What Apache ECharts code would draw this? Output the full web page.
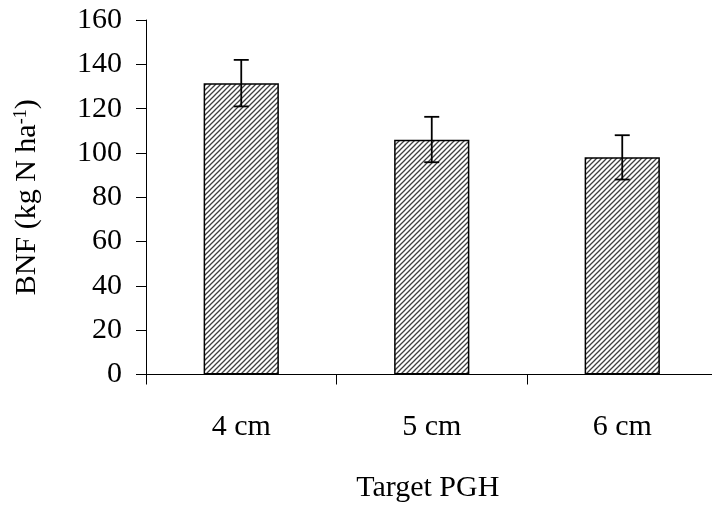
<!DOCTYPE html>
<html>
<head>
<meta charset="utf-8">
<script src="https://cdn.jsdelivr.net/npm/echarts@6/dist/echarts.min.js"></script>
<style>html,body{margin:0;padding:0;background:#fff}#c{width:712px;height:506px}</style>
</head>
<body>
<div id="c"></div>
<script>
var categories = ['4 cm', '5 cm', '6 cm'];
var bnfValues = [131.5, 106, 98];
var errLow = [121, 95.8, 88];
var errHigh = [142, 116.3, 108];
var yTicks = [0, 20, 40, 60, 80, 100, 120, 140, 160];

function hatch() {
  var c = document.createElement('canvas');
  c.width = 5; c.height = 5;
  var g = c.getContext('2d');
  g.fillStyle = '#ffffff';
  g.fillRect(0, 0, 5, 5);
  g.strokeStyle = '#404040';
  g.lineWidth = 1.3;
  g.beginPath();
  g.moveTo(-1, 6); g.lineTo(6, -1);
  g.moveTo(-6, 6); g.lineTo(1, -1);
  g.moveTo(4, 6); g.lineTo(11, -1);
  g.stroke();
  return c;
}

var font = 'Liberation Serif, Times New Roman, serif';
var chart = echarts.init(document.getElementById('c'), null, {renderer: 'canvas'});
var errData = categories.map(function (c, i) { return [i, errLow[i], errHigh[i]]; });

chart.setOption({
  animation: false,
  backgroundColor: '#fff',
  grid: {left: 146, top: 20, bottom: 131.5, right: -5.5, containLabel: false, outerBoundsMode: 'none'},
  xAxis: {
    type: 'category',
    data: categories,
    name: 'Target PGH',
    nameLocation: 'middle',
    nameGap: 99,
    nameTextStyle: {fontFamily: font, fontSize: 30, color: '#000', padding: [0, 8, 0, 0]},
    axisLine: {lineStyle: {color: '#000', width: 1}},
    axisTick: {show: true, alignWithLabel: false, length: 10, lineStyle: {color: '#000'}},
    axisLabel: {fontFamily: font, fontSize: 30, color: '#000', margin: 38}
  },
  yAxis: {
    type: 'value',
    min: yTicks[0],
    max: yTicks[yTicks.length - 1],
    interval: 20,
    name: '{a|BNF (kg N ha}{s|-1}{a|)}',
    nameLocation: 'middle',
    nameGap: 104,
    nameRotate: 90,
    nameTextStyle: {
      rich: {
        a: {fontFamily: font, fontSize: 30, color: '#000'},
        s: {fontFamily: font, fontSize: 18, color: '#000', verticalAlign: 'top', padding: [0, 0, 12, 0]}
      }
    },
    splitLine: {show: false},
    axisLine: {show: true, lineStyle: {color: '#000', width: 1}},
    axisTick: {show: true, length: 10, lineStyle: {color: '#000'}},
    axisLabel: {fontFamily: font, fontSize: 30, color: '#000', margin: 24}
  },
  series: [
    {
      type: 'bar',
      data: bnfValues,
      barWidth: '39.5%',
      itemStyle: {
        color: {image: hatch(), repeat: 'repeat'},
        borderColor: '#000',
        borderWidth: 1.5
      }
    },
    {
      type: 'custom',
      data: errData,
      z: 10,
      renderItem: function (params, api) {
        var x = api.value(0);
        var lo = api.coord([x, api.value(1)]);
        var hi = api.coord([x, api.value(2)]);
        var w = 7.5;
        var st = {stroke: '#000', lineWidth: 1.8};
        return {
          type: 'group',
          children: [
            {type: 'line', shape: {x1: hi[0], y1: hi[1], x2: lo[0], y2: lo[1]}, style: st},
            {type: 'line', shape: {x1: hi[0] - w, y1: hi[1], x2: hi[0] + w, y2: hi[1]}, style: st},
            {type: 'line', shape: {x1: lo[0] - w, y1: lo[1], x2: lo[0] + w, y2: lo[1]}, style: st}
          ]
        };
      }
    }
  ]
});
</script>
</body>
</html>
